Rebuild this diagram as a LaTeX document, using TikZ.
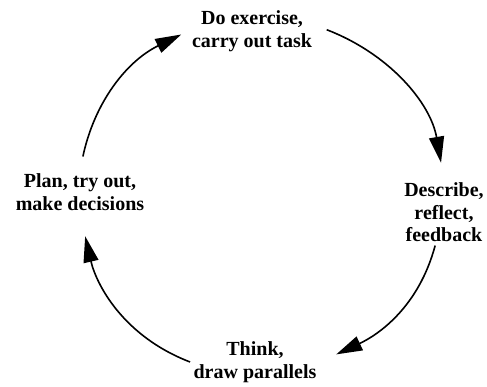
\documentclass[tikz,border=0pt]{standalone}
\usepackage{fontspec}
\setmainfont{Liberation Serif}
\usetikzlibrary{arrows.meta}

\begin{document}
\begin{tikzpicture}[x=1pt,y=1pt,
  lbl/.style={font=\bfseries\fontsize{20}{22.5}\selectfont,align=center},
  cyc/.style={line width=1.6pt,-{Triangle[length=26pt,width=15pt]}}]
  \useasboundingbox (0,0) rectangle (487,387);
  \node[lbl] (ex) at (252,356) {Do exercise,\\carry out task};
  \node[lbl] (de) at (444,174.5) {Describe,\\reflect,\\feedback};
  \node[lbl] (th) at (255,25) {Think,\\draw parallels};
  \node[lbl] (pl) at (80,195) {Plan, try out,\\make decisions};

  % cycle
  \draw[cyc,shorten <=12pt,shorten >=17pt] (ex.5) to[out=-21,in=100] (de.north);
  \draw[cyc,shorten >=18pt] (de.-105) to[out=-105,in=25] (th.east);
  \draw[cyc,shorten >=23pt] (th.west) to[out=159,in=-77] (pl.south);
  \draw[cyc,shorten <=14pt,shorten >=8pt] (pl.north) to[out=78,in=206] (ex.west);
\end{tikzpicture}
\end{document}
